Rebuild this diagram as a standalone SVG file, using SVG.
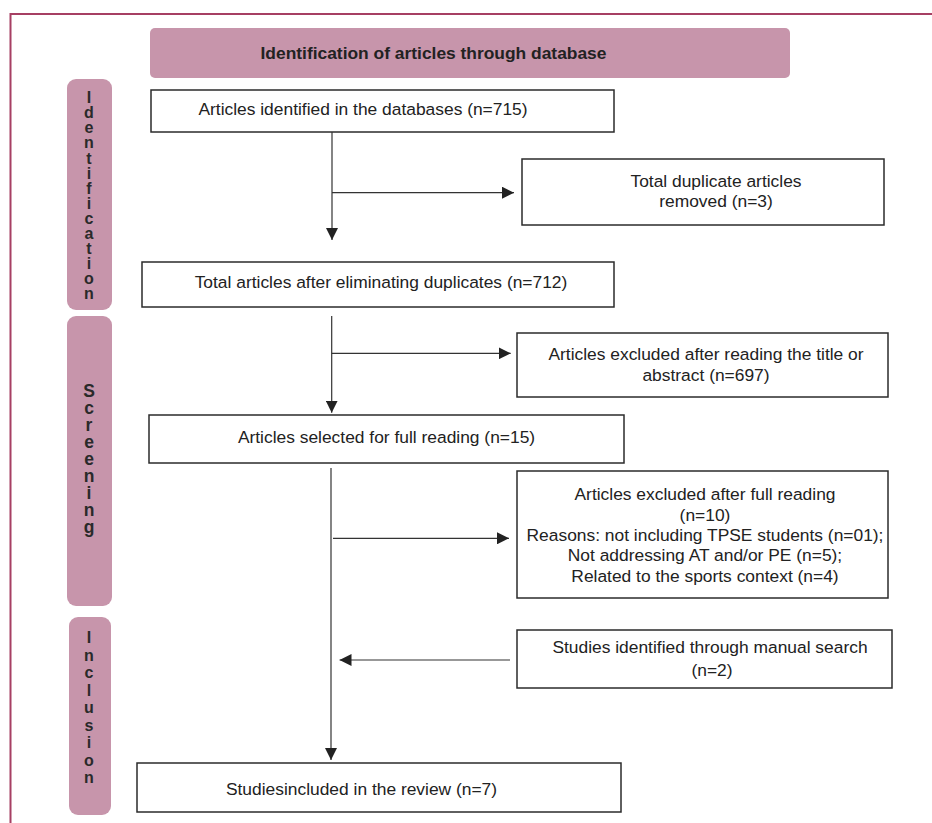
<svg xmlns="http://www.w3.org/2000/svg" width="932" height="823" viewBox="0 0 932 823">
<defs>
<style>
.frame{stroke:#a63f63;stroke-width:2;fill:none}
.phase{fill:#c795ab}
.box{fill:#fff;stroke:#2b2b2b;stroke-width:1.5}
.t{font-family:"Liberation Sans",Arial,sans-serif;font-size:17.4px;fill:#222;text-anchor:middle}
.tb{font-family:"Liberation Sans",Arial,sans-serif;font-size:17.4px;font-weight:bold;fill:#222;text-anchor:middle}
.side{font-family:"Liberation Sans",Arial,sans-serif;font-size:16px;font-weight:bold;fill:#2a2a2a;text-anchor:middle}
.conn{stroke:#333;stroke-width:1.2;fill:none}
</style>
<marker id="ah" viewBox="0 0 12 12" refX="12" refY="6" markerWidth="12" markerHeight="12" markerUnits="userSpaceOnUse" orient="auto">
<path d="M0,0 L12,6 L0,12 Z" fill="#222"/>
</marker>
</defs>
<rect width="932" height="823" fill="#fff"/>
<path class="frame" d="M10.5,823 L10.5,14 L932,14"/>

<g id="header">
<rect class="phase" x="150" y="28" width="640" height="50" rx="5"/>
<text class="tb" x="433.5" y="59">Identification of articles through database</text>
</g>

<g id="phase-identification">
<rect class="phase" x="67" y="79" width="45" height="231" rx="9"/>
<text class="side" x="89" y="103.3">I<tspan x="89" dy="15.05">d</tspan><tspan x="89" dy="15.05">e</tspan><tspan x="89" dy="15.05">n</tspan><tspan x="89" dy="15.05">t</tspan><tspan x="89" dy="15.05">i</tspan><tspan x="89" dy="15.05">f</tspan><tspan x="89" dy="15.05">i</tspan><tspan x="89" dy="15.05">c</tspan><tspan x="89" dy="15.05">a</tspan><tspan x="89" dy="15.05">t</tspan><tspan x="89" dy="15.05">i</tspan><tspan x="89" dy="15.05">o</tspan><tspan x="89" dy="15.05">n</tspan></text>
</g>

<g id="phase-screening">
<rect class="phase" x="67" y="316" width="45" height="290" rx="9"/>
<text class="side" style="font-size:17.5px" x="89" y="396.7">S<tspan x="89" dy="17.05">c</tspan><tspan x="89" dy="17.05">r</tspan><tspan x="89" dy="17.05">e</tspan><tspan x="89" dy="17.05">e</tspan><tspan x="89" dy="17.05">n</tspan><tspan x="89" dy="17.05">i</tspan><tspan x="89" dy="17.05">n</tspan><tspan x="89" dy="17.05">g</tspan></text>
</g>

<g id="phase-inclusion">
<rect class="phase" x="69" y="617" width="42" height="198" rx="9"/>
<text class="side" x="89" y="643.3">I<tspan x="89" dy="17.5">n</tspan><tspan x="89" dy="17.5">c</tspan><tspan x="89" dy="17.5">l</tspan><tspan x="89" dy="17.5">u</tspan><tspan x="89" dy="17.5">s</tspan><tspan x="89" dy="17.5">i</tspan><tspan x="89" dy="17.5">o</tspan><tspan x="89" dy="17.5">n</tspan></text>
</g>

<g id="n-identified">
<rect class="box" x="151" y="90" width="463" height="42"/>
<text class="t" x="363" y="115">Articles identified in the databases (n=715)</text>
</g>

<g id="n-duplicates">
<rect class="box" x="522" y="159" width="362" height="66"/>
<text class="t" x="716" y="187">Total duplicate articles</text>
<text class="t" x="716" y="207">removed (n=3)</text>
</g>

<g id="n-after-dup">
<rect class="box" x="142" y="262" width="472" height="45"/>
<text class="t" x="381" y="288">Total articles after eliminating duplicates (n=712)</text>
</g>

<g id="n-excluded-title">
<rect class="box" x="517" y="333" width="371" height="64"/>
<text class="t" x="706" y="360">Articles excluded after reading the title or</text>
<text class="t" x="706" y="380.5">abstract (n=697)</text>
</g>

<g id="n-full-reading">
<rect class="box" x="149" y="415" width="475" height="48"/>
<text class="t" x="386.5" y="443">Articles selected for full reading (n=15)</text>
</g>

<g id="n-excluded-full">
<rect class="box" x="517" y="471" width="371" height="127"/>
<text class="t" x="705" y="500">Articles excluded after full reading</text>
<text class="t" x="705" y="520.5">(n=10)</text>
<text class="t" x="705" y="541">Reasons: not including TPSE students (n=01);</text>
<text class="t" x="705" y="561">Not addressing AT and/or PE (n=5);</text>
<text class="t" x="705" y="581.5">Related to the sports context (n=4)</text>
</g>

<g id="n-manual">
<rect class="box" x="517" y="630" width="375" height="58"/>
<text class="t" x="710" y="653">Studies identified through manual search</text>
<text class="t" x="712" y="676">(n=2)</text>
</g>

<g id="n-included">
<rect class="box" x="137" y="763" width="484" height="49"/>
<text class="t" x="361.5" y="795">Studiesincluded in the review (n=7)</text>
</g>

<g id="connectors">
<line class="conn" x1="332" y1="132" x2="332" y2="240" marker-end="url(#ah)"/>
<line class="conn" x1="332" y1="192.7" x2="514" y2="192.7" marker-end="url(#ah)"/>
<line class="conn" x1="331.7" y1="316" x2="331.7" y2="412.7" marker-end="url(#ah)"/>
<line class="conn" x1="331.7" y1="353.3" x2="510.7" y2="353.3" marker-end="url(#ah)"/>
<line class="conn" x1="331" y1="468" x2="331" y2="760" marker-end="url(#ah)"/>
<line class="conn" x1="333" y1="538.3" x2="509" y2="538.3" marker-end="url(#ah)"/>
<line class="conn" x1="510" y1="660" x2="339.5" y2="660" marker-end="url(#ah)"/>
</g>
</svg>
